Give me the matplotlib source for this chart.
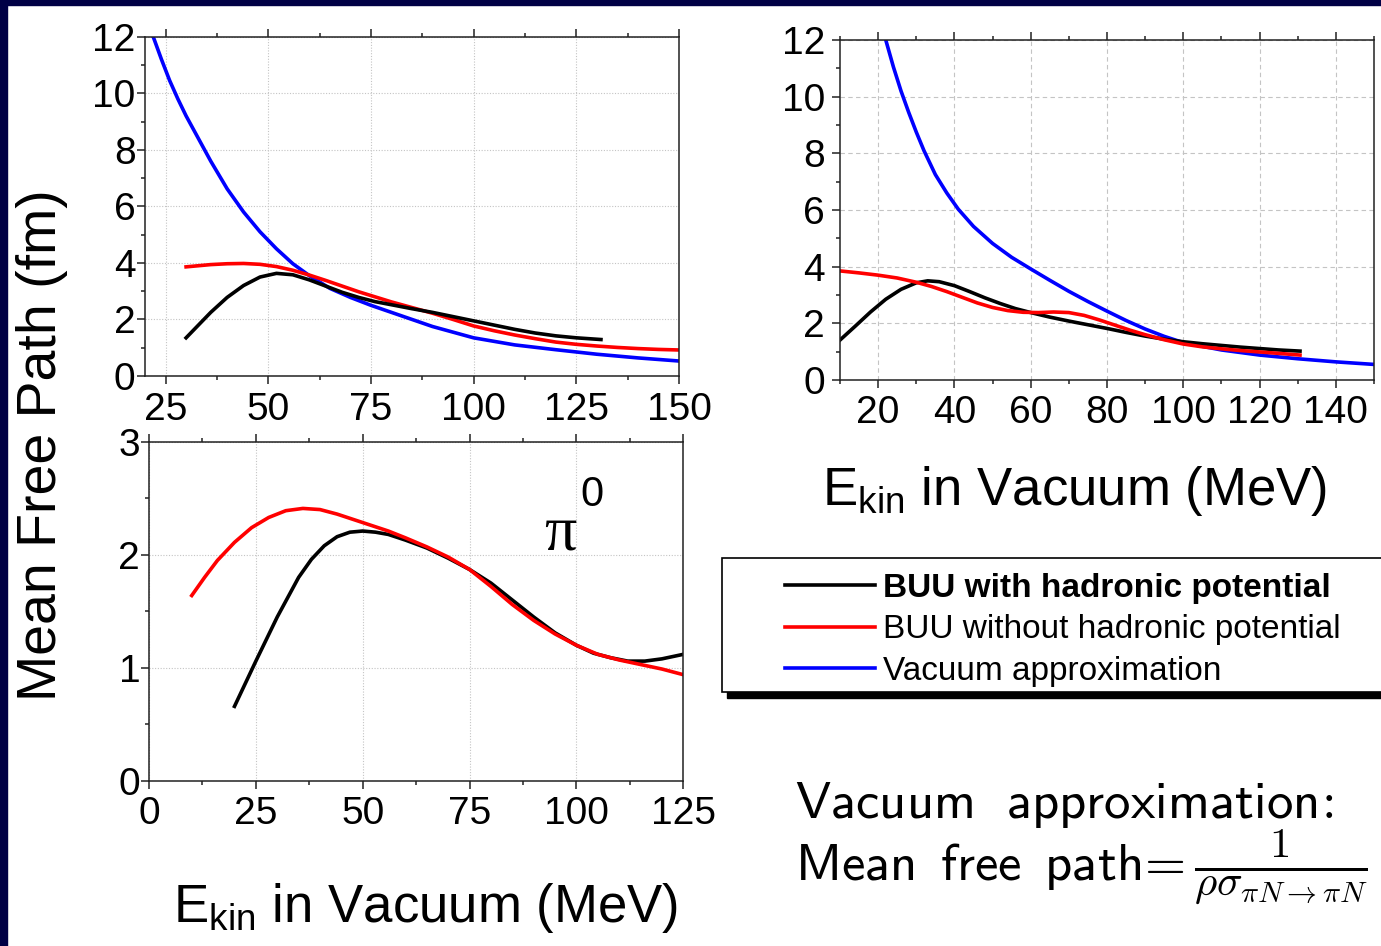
"""
Pion mean free path vs. vacuum kinetic energy: BUU with / without hadronic
potential and the vacuum approximation 1/(rho sigma).
"""
import matplotlib
matplotlib.use("Agg")
import matplotlib.pyplot as plt
from matplotlib.lines import Line2D
from matplotlib.patches import Rectangle
from matplotlib.ticker import MultipleLocator

W, H = 1381, 946
NAVY = "#000045"

# --- data ---------------------------------------------------------------------
# top left panel
TL_VAC_X = [22, 24, 26, 28, 30, 33, 36, 40, 44, 48, 52, 56, 60, 65, 70, 75, 80, 90, 100, 110, 120, 130, 140, 150]
TL_VAC_Y = [12.0, 11.2, 10.45, 9.8, 9.2, 8.4, 7.6, 6.62, 5.8, 5.1, 4.5, 3.97, 3.55, 3.1, 2.78, 2.5, 2.25, 1.75, 1.35, 1.1, 0.93, 0.77, 0.64, 0.53]
TL_RED_X = [30, 33, 36, 40, 44, 48, 52, 56, 60, 64, 68, 72, 76, 80, 85, 90, 95, 100, 105, 110, 115, 120, 125, 130, 135, 140, 145, 150]
TL_RED_Y = [3.86, 3.9, 3.94, 3.97, 3.98, 3.95, 3.87, 3.74, 3.57, 3.38, 3.18, 2.98, 2.8, 2.62, 2.42, 2.22, 2.0, 1.77, 1.6, 1.45, 1.32, 1.2, 1.12, 1.06, 1.01, 0.97, 0.94, 0.92]
TL_BLK_X = [30, 33, 36, 40, 44, 48, 52, 56, 60, 64, 68, 72, 76, 80, 85, 90, 95, 100, 105, 110, 115, 120, 125, 131]
TL_BLK_Y = [1.35, 1.8, 2.25, 2.78, 3.2, 3.5, 3.63, 3.58, 3.4, 3.18, 2.96, 2.78, 2.63, 2.52, 2.38, 2.25, 2.1, 1.95, 1.8, 1.65, 1.52, 1.42, 1.35, 1.29]

# top right panel
TR_VAC_X = [22, 24, 26, 28, 30, 32, 35, 38, 41, 45, 50, 55, 60, 65, 70, 75, 80, 85, 90, 95, 100, 110, 120, 130, 140, 150]
TR_VAC_Y = [12.0, 11.05, 10.2, 9.45, 8.75, 8.1, 7.25, 6.6, 6.03, 5.42, 4.82, 4.33, 3.92, 3.52, 3.13, 2.77, 2.43, 2.1, 1.8, 1.54, 1.32, 1.06, 0.88, 0.75, 0.64, 0.55]
TR_RED_X = [10, 15, 20, 25, 30, 34, 38, 42, 46, 50, 54, 58, 62, 66, 70, 74, 78, 82, 86, 90, 95, 100, 105, 110, 115, 120, 125, 130.6]
TR_RED_Y = [3.85, 3.78, 3.7, 3.6, 3.45, 3.3, 3.12, 2.92, 2.72, 2.56, 2.45, 2.39, 2.38, 2.4, 2.38, 2.28, 2.12, 1.94, 1.76, 1.6, 1.42, 1.27, 1.17, 1.1, 1.04, 0.99, 0.94, 0.88]
TR_BLK_X = [10, 14, 18, 22, 26, 30, 33, 36, 40, 44, 48, 52, 56, 60, 65, 70, 75, 80, 85, 90, 95, 100, 105, 110, 115, 120, 125, 130.6]
TR_BLK_Y = [1.41, 1.9, 2.4, 2.85, 3.2, 3.43, 3.5, 3.47, 3.33, 3.12, 2.9, 2.7, 2.52, 2.38, 2.22, 2.08, 1.95, 1.82, 1.68, 1.55, 1.44, 1.35, 1.28, 1.22, 1.16, 1.11, 1.06, 1.02]

# bottom left panel (pi0)
BL_BLK_X = [20, 25, 30, 35, 38, 41, 44, 47, 50, 53, 56, 60, 65, 70, 75, 80, 85, 90, 95, 100, 104, 108, 112, 116, 120, 125]
BL_BLK_Y = [0.66, 1.06, 1.45, 1.8, 1.96, 2.08, 2.16, 2.2, 2.21, 2.2, 2.18, 2.13, 2.06, 1.97, 1.87, 1.75, 1.6, 1.45, 1.31, 1.2, 1.13, 1.09, 1.06, 1.06, 1.08, 1.12]
BL_RED_X = [10, 13, 16, 20, 24, 28, 32, 36, 40, 44, 48, 52, 56, 60, 65, 70, 75, 80, 85, 90, 95, 100, 105, 110, 115, 120, 125]
BL_RED_Y = [1.64, 1.8, 1.95, 2.11, 2.24, 2.33, 2.39, 2.41, 2.4, 2.36, 2.31, 2.26, 2.21, 2.15, 2.07, 1.98, 1.87, 1.72, 1.56, 1.42, 1.3, 1.2, 1.12, 1.07, 1.03, 0.99, 0.94]

LABELS = ["BUU with hadronic potential", "BUU without hadronic potential", "Vacuum approximation"]
COLORS = ["black", "#ff0000", "#0000ff"]

plt.rcParams["font.family"] = "Liberation Sans"
plt.rcParams["mathtext.fontset"] = "custom"
plt.rcParams["mathtext.rm"] = "Liberation Sans"
plt.rcParams["mathtext.it"] = "Liberation Sans:italic"
plt.rcParams["mathtext.bf"] = "Liberation Sans:bold"

LW = 2.6


def fig_box(x0, y0, x1, y1):
    """pixel box (top-left origin) -> figure fraction rect"""
    return [x0 / W, 1 - y1 / H, (x1 - x0) / W, (y1 - y0) / H]


def style_axes(ax, xlim, ylim, xstep, ystep, grid_ls, ypad, xpad):
    ax.set_xlim(*xlim)
    ax.set_ylim(*ylim)
    ax.xaxis.set_major_locator(MultipleLocator(xstep))
    ax.xaxis.set_minor_locator(MultipleLocator(xstep / 2))
    ax.yaxis.set_major_locator(MultipleLocator(ystep))
    ax.yaxis.set_minor_locator(MultipleLocator(ystep / 2))
    ax.tick_params(which="both", direction="out", top=True, right=False,
                   width=1.1, color="#222222", labelsize=28)
    ax.tick_params(which="major", length=5.8)
    ax.tick_params(which="minor", length=3.0)
    ax.tick_params(axis="y", pad=ypad)
    ax.tick_params(axis="x", pad=xpad)
    ax.grid(True, which="major", color="#c4c4c4", ls=grid_ls, lw=0.8)
    ax.set_axisbelow(True)
    for s in ax.spines.values():
        s.set_linewidth(1.1)
        s.set_color("#222222")


def main():
    fig = plt.figure(figsize=(W / 100, H / 100), dpi=100)
    fig.patch.set_facecolor("white")
    # slide frame
    fig.add_artist(Rectangle((0, 0), 7 / W, 1, transform=fig.transFigure, color=NAVY, zorder=-5))
    fig.add_artist(Rectangle((0, 1 - 5 / H), 1, 5 / H, transform=fig.transFigure, color=NAVY, zorder=-5))

    ax_tl = fig.add_axes(fig_box(145, 36.7, 679, 376))
    ax_tr = fig.add_axes(fig_box(840, 40, 1374, 380))
    ax_bl = fig.add_axes(fig_box(149, 441.7, 683.3, 781))

    style_axes(ax_tl, (20, 150), (0, 12), 25, 2, (0, (1, 1.5)), 1, 6)
    style_axes(ax_tr, (10, 150), (0, 12), 20, 2, (0, (4, 3)), 5, 5)
    style_axes(ax_bl, (0, 125), (0, 3), 25, 1, (0, (1, 1.5)), 0.5, 5)

    ax_tl.plot(TL_VAC_X, TL_VAC_Y, color=COLORS[2], lw=LW)
    ax_tl.plot(TL_RED_X, TL_RED_Y, color=COLORS[1], lw=LW)
    ax_tl.plot(TL_BLK_X, TL_BLK_Y, color=COLORS[0], lw=LW)

    ax_tr.plot(TR_VAC_X, TR_VAC_Y, color=COLORS[2], lw=LW)
    ax_tr.plot(TR_BLK_X, TR_BLK_Y, color=COLORS[0], lw=LW)
    ax_tr.plot(TR_RED_X, TR_RED_Y, color=COLORS[1], lw=LW)

    ax_bl.plot(BL_BLK_X, BL_BLK_Y, color=COLORS[0], lw=LW)
    ax_bl.plot(BL_RED_X, BL_RED_Y, color=COLORS[1], lw=LW)
    ax_bl.text(96.2, 2.05, "π", family="Liberation Serif", fontsize=46, ha="center", va="baseline")
    ax_bl.text(103.6, 2.43, "0", fontsize=30, ha="center", va="baseline")

    fig.text(42 / W, 1 - 445 / H, "Mean Free Path (fm)", rotation=90,
             fontsize=40, ha="center", va="center")
    xlab = r"$\mathrm{E}_{\mathrm{kin}}$ in Vacuum (MeV)"
    fig.text(426 / W, 1 - 922 / H, xlab, fontsize=38, ha="center", va="baseline")
    fig.text(1075 / W, 1 - 505 / H, xlab, fontsize=38, ha="center", va="baseline")

    # legend: frame + shadow drawn by hand, entries through the legend machinery
    fig.add_artist(Rectangle((727 / W, 1 - 698 / H), 700 / W, 136 / H,
                             transform=fig.transFigure, color="black", zorder=4))
    fig.add_artist(Rectangle((722 / W, 1 - 692 / H), 700 / W, 134 / H,
                             transform=fig.transFigure, facecolor="white",
                             edgecolor="black", lw=1.2, zorder=5))
    handles = [Line2D([], [], color=c, lw=LW) for c in COLORS]
    leg = fig.legend(handles, LABELS, loc="upper left",
                     bbox_to_anchor=(785 / W, 1 - 573 / H), frameon=False,
                     fontsize=24, handlelength=2.7, handletextpad=0.24,
                     labelspacing=0.31, borderpad=0, borderaxespad=0)
    leg.set_zorder(6)
    leg.get_texts()[0].set_fontweight("bold")

    # formula of the vacuum approximation
    fig.text(795 / W, 1 - 818 / H, r"$\mathsf{Vacuum\ \ approximation\!:}$",
             fontsize=38, math_fontfamily="cm", ha="left", va="baseline")
    fig.text(795 / W, 1 - 880 / H, r"$\mathsf{Mean\ \,free\ \,path}\!=$",
             fontsize=38, math_fontfamily="cm", ha="left", va="baseline")
    fig.text(1194 / W, 1 - 880 / H, r"$\frac{1}{\rho\sigma_{\pi N\rightarrow\pi N}}$",
             fontsize=44, math_fontfamily="cm", ha="left", va="baseline")

    fig.savefig("out.png", dpi=100, facecolor=fig.get_facecolor())
    plt.close(fig)


if __name__ == "__main__":
    main()
